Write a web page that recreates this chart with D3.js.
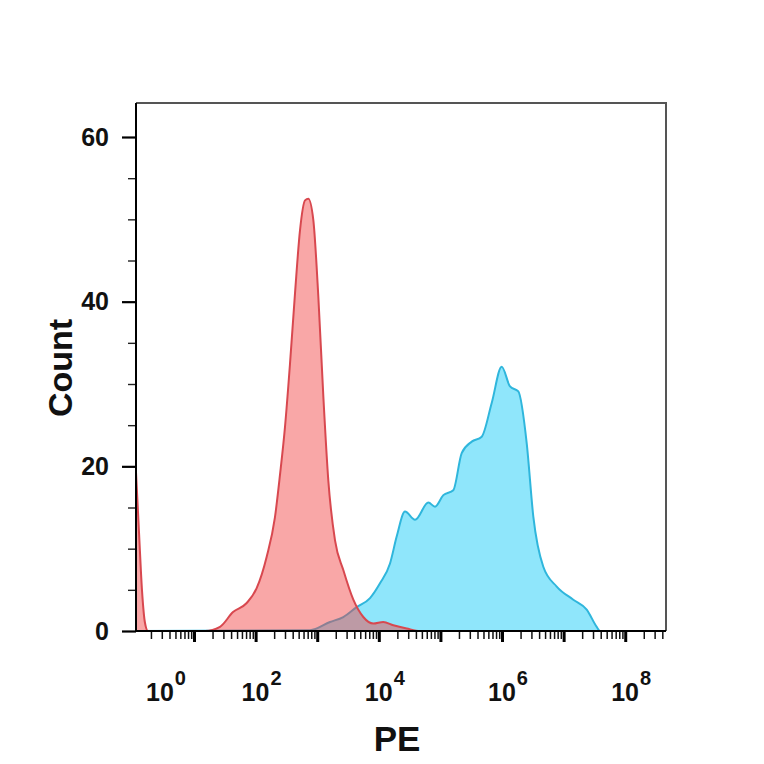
<!DOCTYPE html>
<html><head><meta charset="utf-8">
<script src="https://cdn.jsdelivr.net/npm/d3@7"></script>
<style>body{margin:0;background:#fff}</style>
</head><body><svg id="c" width="764" height="764"></svg>
<script>
// Isotype control (red)
const redPE    = [1.144, 1.28, 1.43, 1.60, 1.79, 15.1, 26.4, 43, 71.7, 104, 151, 206, 249, 300, 362, 436, 526, 634, 718, 865, 1043, 1257, 1514, 1945, 2652, 3857, 5600, 8140, 11800, 17200, 28400, 46700, 4.59e8];
const redCount = [19.3, 12, 5, 1, 0, 0, 0.5, 2.3, 3.4, 5.2, 9, 13.8, 19, 24.8, 32.5, 41, 48.7, 52.3, 52.5, 49.9, 40.6, 28.5, 18.3, 11, 7.4, 3.8, 1.7, 0.9, 1.1, 0.7, 0.3, 0, 0];
// Stained sample (blue)
const bluePE    = [1.144, 764, 1614, 2652, 4375, 7195, 10450, 15200, 19540, 26620, 38700, 63700, 81700, 111500, 161800, 221600, 322300, 468000, 680000, 988000, 1349000, 1840000, 2517000, 3221000, 4678000, 7725000, 14360000, 23700000, 34450000, 39000000, 4.59e8];
const blueCount = [0, 0.1, 1.1, 1.7, 2.9, 4, 5.8, 8.2, 11.5, 14.5, 13.5, 15.6, 15.1, 16.5, 17.1, 21.6, 23, 23.6, 27.7, 32.1, 29.7, 29.1, 22.8, 13.9, 7.8, 5.4, 3.8, 2.6, 0.5, 0, 0];
const yMajorTicks = [0, 20, 40, 60];
const yMinorStep = 5;
const xLabelExps = [0, 2, 4, 6, 8];
const xTitle = "PE", yTitle = "Count";

const svg = d3.select("#c");
const L = 136, R = 666, T = 103, B = 631;
const x = d3.scaleLog().domain([1.144, 4.59e8]).range([L, R]);
const y = d3.scaleLinear().domain([0, 64.13]).range([B, T]);
const font = "'Liberation Sans', Arial, Helvetica, sans-serif";

svg.append("defs").append("clipPath").attr("id", "clip")
  .append("rect").attr("x", L).attr("y", T).attr("width", R - L).attr("height", B - T);

const red = redPE.map((p, i) => ({pe: p, c: redCount[i]}));
const blue = bluePE.map((p, i) => ({pe: p, c: blueCount[i]}));

const area = d3.area().x(d => x(d.pe)).y0(B).y1(d => y(d.c)).curve(d3.curveMonotoneX);
const line = d3.line().x(d => x(d.pe)).y(d => y(d.c)).curve(d3.curveMonotoneX);

const g = svg.append("g").attr("clip-path", "url(#clip)");
g.append("path").datum(blue).attr("d", area).attr("fill", "#8fe6fb");
g.append("path").datum(blue).attr("d", line).attr("fill", "none").attr("stroke", "#2fb6dc").attr("stroke-width", 2);
g.append("path").datum(red).attr("d", area).attr("fill", "rgba(242,68,68,0.47)");
g.append("path").datum(red).attr("d", line).attr("fill", "none").attr("stroke", "#d8484f").attr("stroke-width", 2);

// frame (top and right)
svg.append("path").attr("d", `M${L},${T}H${R}V${B}`).attr("fill", "none").attr("stroke", "#555").attr("stroke-width", 2);

// x axis
const allTicks = x.ticks().filter(v => v >= x.domain()[0] && v <= x.domain()[1]);
const isPow = v => Math.abs(Math.log10(v) - Math.round(Math.log10(v))) < 1e-9;
const xMinor = d3.axisBottom(x).tickValues(allTicks.filter(v => !isPow(v))).tickSize(8).tickFormat("");
const xMajor = d3.axisBottom(x).tickValues(allTicks.filter(isPow)).tickSize(11).tickFormat("");
const gxm = svg.append("g").attr("transform", `translate(0,${B})`).call(xMinor);
gxm.selectAll(".tick line").attr("stroke", "#111").attr("stroke-width", 1.5);
gxm.select(".domain").remove();
const gxM = svg.append("g").attr("transform", `translate(0,${B})`).call(xMajor);
gxM.selectAll(".tick line").attr("stroke", "#000").attr("stroke-width", 3);
gxM.select(".domain").attr("stroke", "#000").attr("stroke-width", 2).attr("d", `M${L},0H${R}`);

xLabelExps.forEach(e => {
  const cx = Math.max(x(Math.pow(10, e)), L + 24);
  const t = svg.append("text").attr("x", cx - 14).attr("y", 701)
    .attr("font-family", font).attr("font-weight", "bold").attr("font-size", 25).attr("fill", "#111");
  t.append("tspan").text("10");
  t.append("tspan").attr("dx", 1).attr("dy", -16).attr("font-size", 20).text(String(e));
});

// y axis
const yMinor = d3.axisLeft(y).tickValues(d3.range(0, 64, yMinorStep).filter(v => yMajorTicks.indexOf(v) < 0)).tickSize(8).tickFormat("");
const yMajor = d3.axisLeft(y).tickValues(yMajorTicks).tickSize(14).tickPadding(13).tickFormat(d3.format("d"));
const gym = svg.append("g").attr("transform", `translate(${L},0)`).call(yMinor);
gym.selectAll(".tick line").attr("stroke", "#222").attr("stroke-width", 1.4);
gym.select(".domain").remove();
const gyM = svg.append("g").attr("transform", `translate(${L},0)`).call(yMajor);
gyM.selectAll(".tick line").attr("stroke", "#000").attr("stroke-width", 2.2);
gyM.select(".domain").attr("stroke", "#000").attr("stroke-width", 2).attr("d", `M0,${B}V${T}`);
gyM.selectAll(".tick text").attr("font-family", font).attr("font-weight", "bold").attr("font-size", 25).attr("fill", "#111");

// titles
svg.append("text").attr("x", 397).attr("y", 751).attr("text-anchor", "middle")
  .attr("font-family", font).attr("font-weight", "bold").attr("font-size", 35).attr("fill", "#111").text(xTitle);
svg.append("text").attr("transform", "translate(72,368) rotate(-90)").attr("text-anchor", "middle")
  .attr("font-family", font).attr("font-weight", "bold").attr("font-size", 34).attr("fill", "#111").text(yTitle);
</script></body></html>
